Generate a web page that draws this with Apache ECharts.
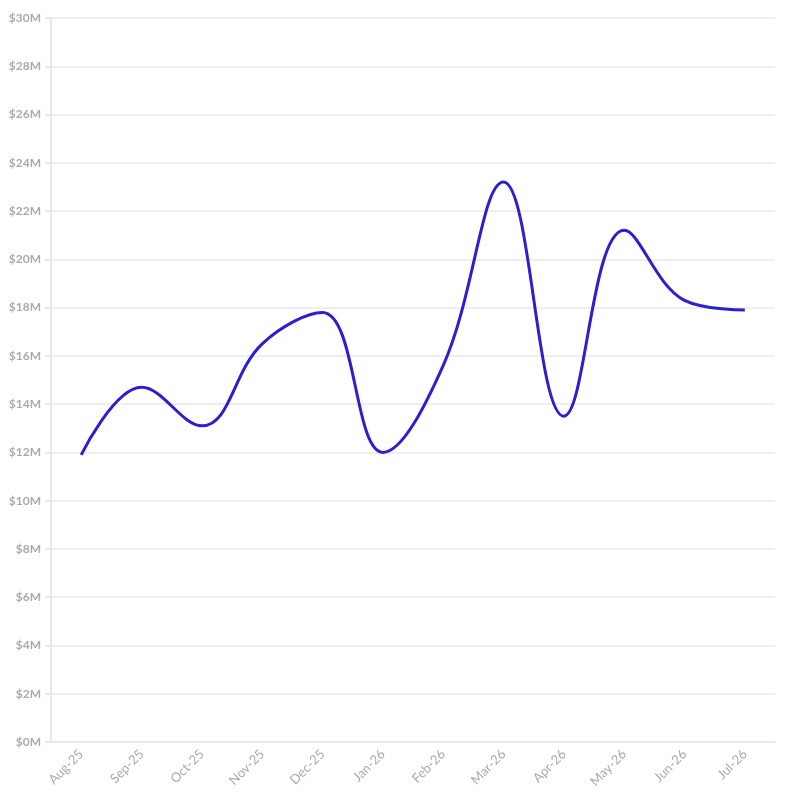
<!DOCTYPE html>
<html>
<head>
<meta charset="utf-8">
<script src="https://cdn.jsdelivr.net/npm/echarts@6/dist/echarts.min.js"></script>
<style>
  html, body { margin: 0; padding: 0; background: #fff; }
  #chart { width: 794px; height: 800px; }
</style>
</head>
<body>
<div id="chart"></div>
<script>
// monthly values, in millions of dollars
var months = ['Aug-25', 'Sep-25', 'Oct-25', 'Nov-25', 'Dec-25', 'Jan-26',
              'Feb-26', 'Mar-26', 'Apr-26', 'May-26', 'Jun-26', 'Jul-26'];
var values = [11.9, 14.7, 13.1, 16.5, 17.8, 12.0, 15.6, 23.2, 13.5, 21.2, 18.3, 17.9];

var labelColor = '#aaaaaa'
    , gridColor = '#e8e8e8';

var myChart = echarts.init(document.getElementById('chart'));
var option = {
    animation: false,
    grid: { left: 51, right: 19, top: 18, bottom: 58, containLabel: false },
    xAxis: {
        type: 'category',
        data: months,
        boundaryGap: true,
        axisLine: { lineStyle: { color: gridColor, width: 2 } },
        axisTick: { alignWithLabel: true, length: 6, lineStyle: { color: gridColor, width: 2 } },
        axisLabel: {
            rotate: 45,
            interval: 0,
            color: labelColor,
            fontFamily: 'Lato',
            fontSize: 13,
            margin: 10
        }
    },
    yAxis: {
        type: 'value',
        min: 0,
        max: 30,
        interval: 2,
        axisLine: { show: true, lineStyle: { color: gridColor, width: 2 } },
        axisTick: { show: true, length: 6, lineStyle: { color: gridColor, width: 2 } },
        splitLine: { lineStyle: { color: gridColor, width: 1.5 } },
        axisLabel: {
            color: labelColor,
            fontFamily: 'Lato',
            fontWeight: 'bold',
            fontSize: 12,
            margin: 10,
            formatter: function (v) { return '$' + v + 'M'; }
        }
    },
    series: [{
        type: 'line',
        data: values,
        smooth: 0.4,
        showSymbol: false,
        lineStyle: { color: '#2b1fd2', width: 3 }
    }]
};
myChart.setOption(option);
</script>
</body>
</html>
